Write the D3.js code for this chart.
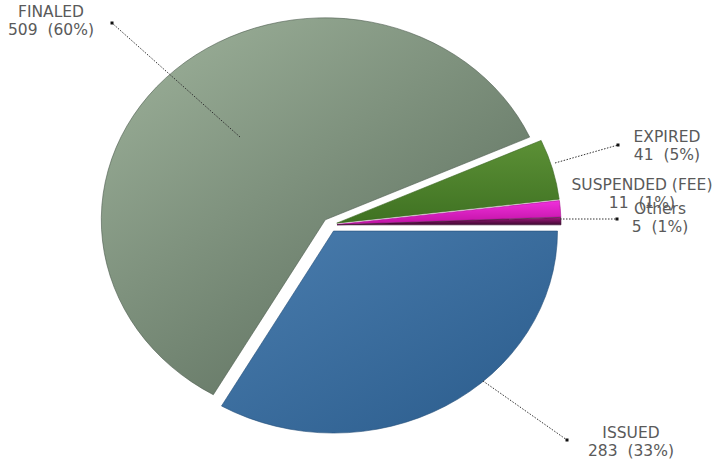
<!DOCTYPE html>
<html>
<head>
<meta charset="utf-8">
<script src="https://cdn.jsdelivr.net/npm/d3@7/dist/d3.min.js"></script>
<style>
  html, body { margin: 0; padding: 0; background: #fff; }
  svg { display: block; }
  text { font-family: "DejaVu Sans", Verdana, sans-serif; font-size: 15.5px; fill: #5a5a5a; white-space: pre; }
</style>
</head>
<body>
<svg id="chart" width="726" height="463"></svg>
<script>
// Permit status counts, drawn clockwise starting at 3 o'clock
const categories = ["ISSUED", "FINALED", "EXPIRED", "SUSPENDED (FEE)", "Others"];
const counts = [283, 509, 41, 11, 5];

// Slice fills: [light, dark] gradient stops
const fills = [
  ["#4a7dae", "#2a5b8b"],
  ["#9cb099", "#566858"],
  ["#5c9036", "#3f7222"],
  ["#f030dc", "#c012a4"],
  ["#a0187e", "#3e0830"]
];

// Gradient directions (bounding-box units): x1, y1, x2, y2
const gradDirs = [
  [0, 0, 1, 1],
  [0.1, 0, 0.9, 1],
  [0, 0, 0, 1],
  [0, 0, 0, 1],
  [0, 0, 0, 1]
];

// Label placement: text centre, first baseline, leader start (on slice) and leader end (dot)
const labelLayout = [
  { x: 631, y: 438, from: [483, 381], to: [567, 440] },
  { x: 51,  y: 17,  from: [240, 137], to: [112, 23] },
  { x: 667, y: 142, from: [555, 163], to: [618, 145] },
  { x: 642, y: 190, from: null, to: null },
  { x: 660, y: 214, from: [560, 219], to: [617, 219] }
];

const svg = d3.select("#chart");
const cx = 330, cy = 225;      // pie centre
const rx = 224, ry = 202;      // pie is drawn slightly wider than tall
const explode = 7;

const total = d3.sum(counts);
const data = categories.map((c, i) => ({ name: c, value: counts[i], i }));

const pie = d3.pie().value(d => d.value).sort(null)
  .startAngle(Math.PI / 2).endAngle(Math.PI / 2 + 2 * Math.PI);
const arcs = pie(data);
const arc = d3.arc().innerRadius(0).outerRadius(ry);

const defs = svg.append("defs");
fills.forEach((f, i) => {
  const d = gradDirs[i];
  const g = defs.append("linearGradient").attr("id", "grad" + i)
    .attr("x1", d[0]).attr("y1", d[1]).attr("x2", d[2]).attr("y2", d[3]);
  g.append("stop").attr("offset", "0%").attr("stop-color", f[0]);
  g.append("stop").attr("offset", "100%").attr("stop-color", f[1]);
});

const slices = svg.append("g").selectAll("g.slice").data(arcs).join("g")
  .attr("class", "slice")
  .attr("transform", d => {
    const mid = (d.startAngle + d.endAngle) / 2;
    const dx = Math.sin(mid) * explode;
    const dy = -Math.cos(mid) * explode;
    return `translate(${cx + dx},${cy + dy}) scale(${rx / ry},1)`;
  });

slices.append("path")
  .attr("d", arc)
  .attr("fill", d => `url(#grad${d.data.i})`)
  .attr("stroke", d => d3.color(fills[d.data.i][1]).darker(0.4))
  .attr("stroke-width", 0.8)
  .attr("stroke-opacity", 0.7);

// Leader lines with end dots
const leaders = svg.append("g");
labelLayout.forEach(l => {
  if (!l.from) return;
  leaders.append("line")
    .attr("x1", l.from[0]).attr("y1", l.from[1])
    .attr("x2", l.to[0]).attr("y2", l.to[1])
    .attr("stroke", "#333").attr("stroke-width", 1)
    .attr("stroke-dasharray", "1.5,1.5");
  leaders.append("rect")
    .attr("x", l.to[0] - 1.5).attr("y", l.to[1] - 1.5)
    .attr("width", 3).attr("height", 3).attr("fill", "#111");
});

// Labels: name on the first line, count and share below
const labels = svg.append("g");
data.forEach((d, i) => {
  const l = labelLayout[i];
  const pct = Math.round(d.value / total * 100);
  const t = labels.append("text").attr("text-anchor", "middle");
  t.append("tspan").attr("x", l.x).attr("y", l.y).text(d.name);
  t.append("tspan").attr("x", l.x).attr("y", l.y + 18).text(`${d.value}  (${pct}%)`);
});
</script>
</body>
</html>
